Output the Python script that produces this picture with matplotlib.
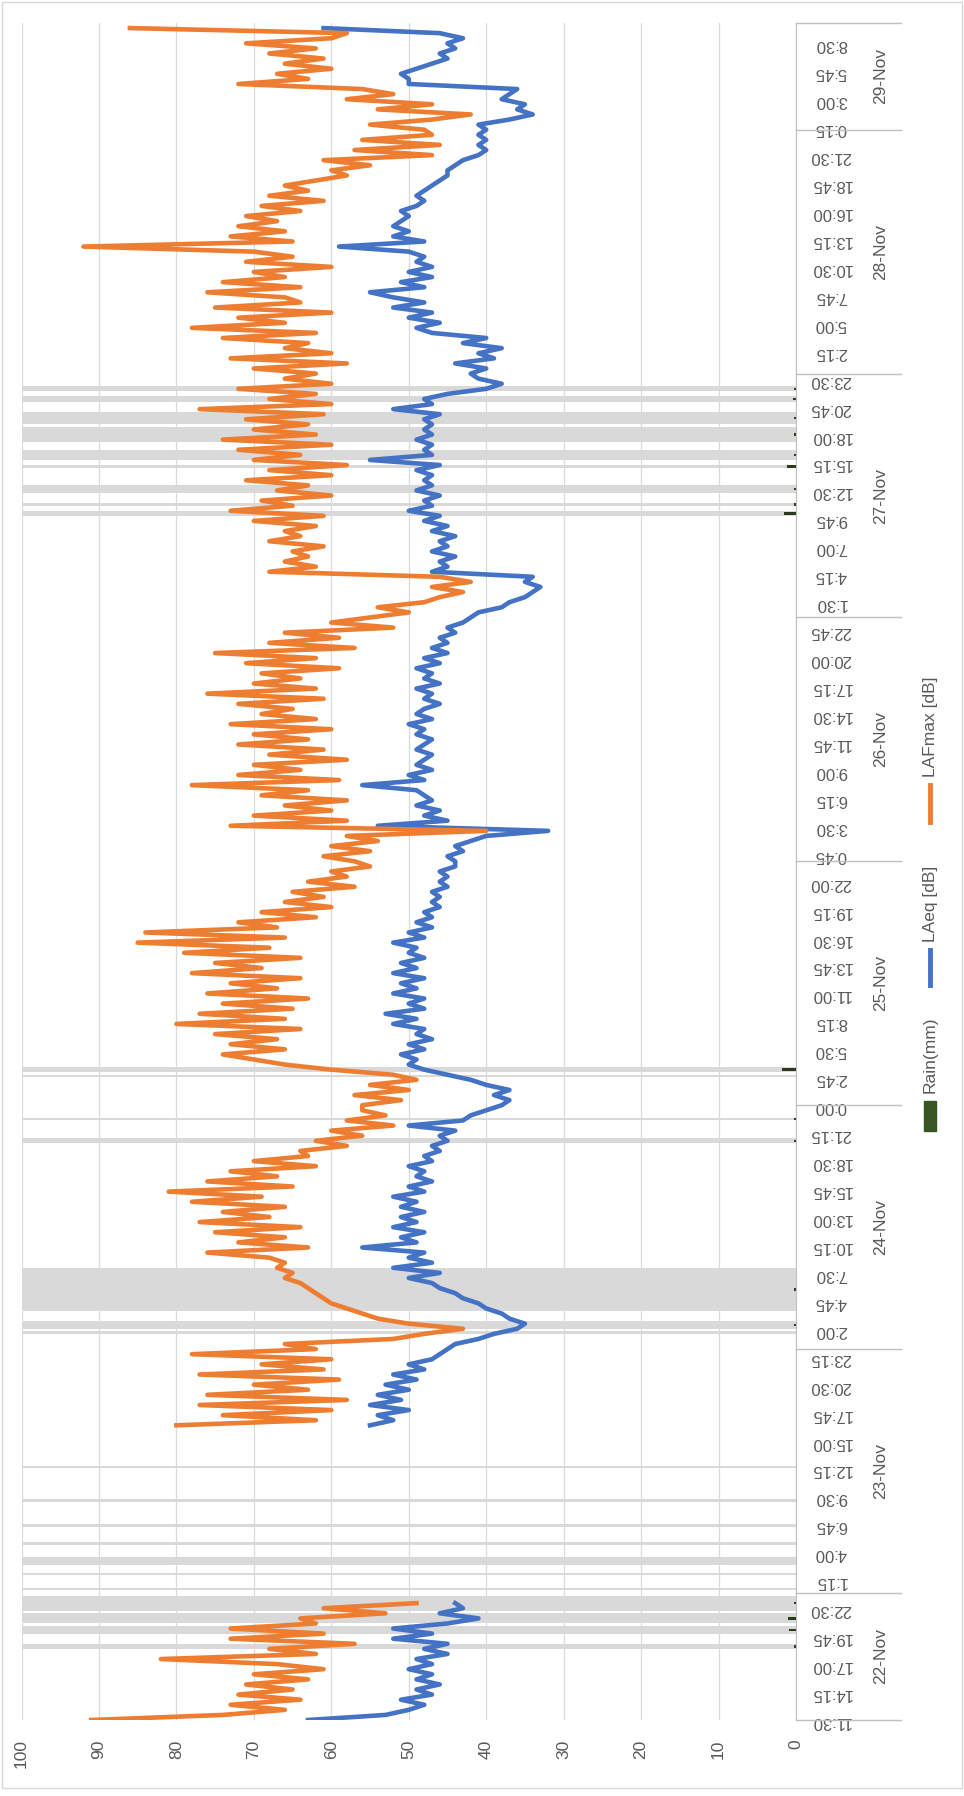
import numpy as np
import pandas as pd
import matplotlib
matplotlib.use('Agg')
import matplotlib.pyplot as plt
from matplotlib.transforms import blended_transform_factory
from matplotlib.patches import Rectangle
from matplotlib.lines import Line2D

plt.rcParams['font.family'] = ['Liberation Sans', 'DejaVu Sans']

nan = np.nan
start = pd.Timestamp('2023-11-22 11:30')

# 30 min readings, 22-Nov 11:30 -> 29-Nov 10:00 (nan = no data)
laeq_22 = [63, 53, 50, 48, 51, 47, 49, 46, 49, 47, 50, 47, 49, 45, 48, 45, 52, 47, 52, 45, 41, 46, 43, 44, nan]
lafmax_22 = [91, 74, 66, 73, 64, 72, 65, 71, 63, 70, 61, 67, 82, 62, 68, 57, 73, 61, 73, 62, 64, 53, 61, 49, nan]

laeq_23 = [nan] * 33 + [55, 52, 54, 50, 55, 51, 54, 50, 53, 49, 52, 48, 50, 47, 46]
lafmax_23 = [nan] * 33 + [80, 62, 74, 60, 77, 58, 76, 63, 70, 59, 77, 61, 69, 60, 78]

laeq_24 = [45, 44, 41, 39, 36, 35, 37, 38, 40, 41, 43, 44, 46, 47, 50, 46, 52, 47, 50, 48, 56, 49, 51, 48,
           52, 49, 51, 48, 51, 49, 52, 48, 50, 47, 49, 48, 50, 47, 48, 46, 47, 45, 46, 44, 50, 43, 42, 40]
lafmax_24 = [62, 66, 52, 48, 43, 50, 54, 56, 58, 60, 61, 62, 63, 64, 66, 65, 67, 66, 68, 76, 63, 72, 66, 75,
             64, 77, 68, 74, 66, 78, 69, 81, 65, 76, 67, 73, 62, 70, 63, 64, 58, 62, 56, 60, 52, 58, 53, 56]

laeq_25 = [38, 37, 39, 37, 40, 42, 45, 48, 50, 49, 51, 48, 50, 47, 49, 48, 52, 49, 53, 48, 50, 48, 52, 49,
           51, 48, 52, 49, 51, 48, 50, 49, 52, 48, 50, 47, 49, 47, 48, 46, 47, 46, 47, 45, 46, 45, 46, 44]
lafmax_25 = [56, 51, 57, 50, 55, 49, 52, 60, 66, 70, 74, 66, 73, 67, 75, 64, 80, 66, 77, 65, 74, 63, 76, 67,
             73, 64, 78, 69, 75, 64, 79, 68, 85, 66, 84, 67, 72, 62, 69, 60, 66, 61, 65, 57, 63, 58, 60, 55]

laeq_26 = [44, 45, 43, 44, 42, 40, 32, 54, 45, 48, 46, 49, 47, 48, 49, 56, 48, 50, 47, 49, 48, 47, 49, 48,
           47, 49, 48, 50, 47, 49, 48, 46, 48, 47, 49, 46, 48, 47, 49, 46, 48, 45, 47, 45, 46, 44, 45, 43]
lafmax_26 = [57, 61, 55, 60, 54, 58, 40, 73, 58, 70, 60, 66, 58, 69, 63, 78, 59, 72, 64, 70, 58, 68, 61, 72,
             63, 70, 60, 73, 62, 69, 65, 72, 61, 76, 62, 70, 64, 69, 59, 71, 62, 75, 57, 68, 59, 66, 52, 60]

laeq_27 = [42, 41, 38, 37, 35, 34, 33, 35, 34, 47, 45, 46, 44, 47, 45, 46, 44, 47, 45, 48, 46, 50, 47, 48,
           46, 49, 47, 48, 47, 49, 46, 55, 47, 48, 47, 49, 47, 48, 47, 48, 46, 52, 47, 48, 45, 40, 38, 41]
lafmax_27 = [55, 50, 54, 48, 46, 43, 47, 42, 46, 68, 62, 66, 63, 65, 61, 68, 64, 66, 62, 70, 61, 73, 65, 69,
             60, 67, 63, 71, 60, 68, 58, 70, 64, 72, 60, 74, 62, 70, 63, 71, 61, 77, 60, 68, 62, 72, 60, 66]

laeq_28 = [42, 40, 44, 39, 41, 38, 43, 40, 47, 49, 46, 50, 47, 52, 48, 52, 55, 48, 51, 47, 50, 47, 49, 48,
           50, 59, 48, 52, 50, 52, 51, 50, 51, 49, 48, 49, 48, 47, 46, 45, 45, 44, 43, 41, 40, 41, 40, 41]
lafmax_28 = [62, 70, 58, 73, 60, 66, 63, 74, 62, 78, 66, 72, 60, 75, 64, 66, 76, 64, 74, 66, 70, 60, 71, 65,
             70, 92, 65, 73, 66, 72, 67, 71, 64, 69, 61, 68, 63, 66, 62, 58, 60, 55, 61, 47, 57, 46, 56, 47]

laeq_29 = [40, 41, 37, 34, 36, 35, 38, 37, 36, 50, 50, 51, 49, 47, 45, 46, 44, 45, 43, 46, 61]
lafmax_29 = [48, 55, 47, 42, 54, 47, 58, 52, 56, 72, 63, 67, 60, 66, 61, 68, 62, 71, 60, 58, 86]

# rain: start of each wet spell, number of 15 min slots, rain (mm)
rain_start = ['22-Nov 18:30', '22-Nov 20:00', '22-Nov 21:00', '22-Nov 22:15', '23-Nov 00:15',
              '23-Nov 01:45', '23-Nov 02:45', '23-Nov 04:45', '23-Nov 06:30', '23-Nov 09:00',
              '23-Nov 12:15', '24-Nov 01:30', '24-Nov 02:00', '24-Nov 03:45', '24-Nov 20:15',
              '24-Nov 22:30', '25-Nov 02:45', '25-Nov 03:15', '27-Nov 10:00', '27-Nov 11:00',
              '27-Nov 12:15', '27-Nov 14:45', '27-Nov 15:30', '27-Nov 17:15', '27-Nov 19:00',
              '27-Nov 21:15', '27-Nov 22:15']
rain_slots = [2, 3, 4, 6, 1, 1, 3, 1, 1, 1, 1, 1, 3, 17, 2, 1, 1, 2, 2, 1, 3, 1, 4, 6, 5, 2, 2]
rain_mm = [0.2, 0.9, 1.0, 0.2, 0, 0, 0, 0, 0, 0, 0, 0, 0.2, 0.2, 0.2, 0.2, 0, 1.8, 1.5, 0.2, 0.2, 1.2,
           0.2, 0.2, 0.2, 0.4, 0.2]

value_ticks = list(range(0, 101, 10))
days = ['22-Nov', '23-Nov', '24-Nov', '25-Nov', '26-Nov', '27-Nov', '28-Nov', '29-Nov']

laeq = laeq_22 + laeq_23 + laeq_24 + laeq_25 + laeq_26 + laeq_27 + laeq_28 + laeq_29
lafmax = lafmax_22 + lafmax_23 + lafmax_24 + lafmax_25 + lafmax_26 + lafmax_27 + lafmax_28 + lafmax_29
times = pd.date_range(start, periods=len(laeq), freq='30min')
hrs = (times - start) / pd.Timedelta(hours=1)
t_end = 167.0


def to_hours(s):
    return (pd.to_datetime('2023 ' + s, format='%Y %d-%b %H:%M') - start) / pd.Timedelta(hours=1)


fig = plt.figure(figsize=(9.64, 17.96), dpi=100)
W, H = 964, 1796
ax = fig.add_axes([21.5 / W, 1 - 1720 / H, (796 - 21.5) / W, (1720 - 23) / H])

# rain bands + rain amount
band_y = []
for s, n in zip(rain_start, rain_slots):
    t0 = to_hours(s)
    band_y += [t0 + 0.25 * k + 0.125 for k in range(n)]
ax.barh(band_y, 100, height=0.25, left=0, color='#d9d9d9', zorder=1)
mm_y = [to_hours(s) + 0.25 * n / 2 for s, n in zip(rain_start, rain_slots)]
ax.barh(mm_y, rain_mm, height=0.25, left=0, color='#2b3a1c', zorder=2)

ax.plot(laeq, hrs, color='#4472c4', lw=3.3, solid_joinstyle='round', zorder=3)
ax.plot(lafmax, hrs, color='#ed7d31', lw=3.3, solid_joinstyle='round', zorder=4)

ax.set_xlim(100, 0)
ax.set_ylim(0, t_end)
ax.set_xticks(value_ticks)
ax.grid(axis='x', color='#d9d9d9', lw=0.9, zorder=0)
ax.set_axisbelow(True)
for sp in ['top', 'left', 'bottom']:
    ax.spines[sp].set_visible(False)
ax.spines['right'].set_color('#bfbfbf')
ax.tick_params(axis='x', length=0, pad=14, labelsize=12.5, labelcolor='#595959', labelrotation=90)

tick_t = np.arange(0, 165.01, 2.75)
tick_times = start + pd.to_timedelta(tick_t, unit='h')
ax.yaxis.tick_right()
ax.set_yticks(tick_t)
ax.set_yticklabels([f'{x.hour}:{x.minute:02d}' for x in tick_times])
ax.tick_params(axis='y', length=0, pad=25, labelsize=12, labelcolor='#595959')
for lbl in ax.get_yticklabels():
    lbl.set_rotation(180)
    lbl.set_ha('center')

# day grouping
trans = blended_transform_factory(ax.transAxes, ax.transData)
bounds = [0] + [to_hours(d + ' 00:00') for d in days[1:]] + [t_end]
for b in bounds:
    ax.add_line(Line2D([1.0, 1.1356], [b, b], transform=trans, color='#bfbfbf', lw=1, clip_on=False))
for d, b0, b1 in zip(days, bounds[:-1], bounds[1:]):
    ax.text(1.109, (b0 + b1) / 2, d, transform=trans, rotation=90, ha='center', va='center',
            fontsize=12.5, color='#595959')

# legend (rotated)
lx = 930 / W
fig.patches.append(Rectangle((lx - 6 / W, 1 - 1131 / H), 12 / W, 30 / H, transform=fig.transFigure,
                             color='#375623'))
fig.text(lx, 1 - 1093 / H, 'Rain(mm)', rotation=90, rotation_mode='anchor', ha='left', va='center',
         fontsize=12.5, color='#595959')
fig.lines.append(Line2D([lx, lx], [1 - 985 / H, 1 - 950 / H], transform=fig.transFigure,
                        color='#4472c4', lw=3.5))
fig.text(lx, 1 - 942 / H, 'LAeq [dB]', rotation=90, rotation_mode='anchor', ha='left', va='center',
         fontsize=12.5, color='#595959')
fig.lines.append(Line2D([lx, lx], [1 - 822 / H, 1 - 785 / H], transform=fig.transFigure,
                        color='#ed7d31', lw=3.5))
fig.text(lx, 1 - 777 / H, 'LAFmax [dB]', rotation=90, rotation_mode='anchor', ha='left', va='center',
         fontsize=12.5, color='#595959')

fig.patches.append(Rectangle((2 / W, 1 - 1788 / H), 960 / W, 1786 / H, transform=fig.transFigure,
                             fill=False, edgecolor='#d9d9d9', lw=1))

fig.savefig('out.png', dpi=100)
